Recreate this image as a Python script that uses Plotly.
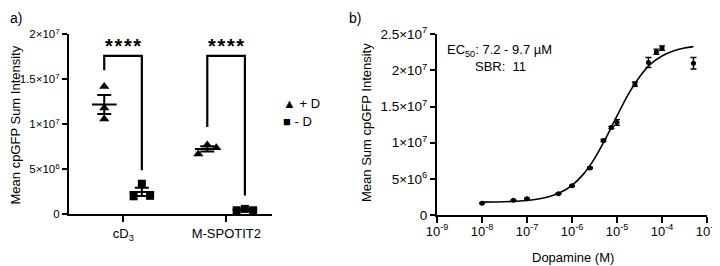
import plotly.graph_objects as go

# ---------------- data: panel a ----------------
groups = ["cD<sub>3</sub>", "M-SPOTIT2"]
plus_d = [[14.2e6, 11.8e6, 10.6e6], [7.7e6, 6.7e6, 7.4e6]]
minus_d = [[3.4e6, 2.0e6, 2.05e6], [0.45e6, 0.6e6, 0.45e6]]
stars = ["*\u200a*\u200a*\u200a*", "*\u200a*\u200a*\u200a*"]
bracket_top = [17.6e6, 17.6e6]
bracket_left_end = [16.0e6, 9.7e6]
bracket_right_end = [4.9e6, 2.1e6]
ya_ticks = [0, 5e6, 1e7, 1.5e7, 2e7]
ya_ticktext = ["0", "5×10<sup>6</sup>", "1×10<sup>7</sup>", "1.5×10<sup>7</sup>", "2×10<sup>7</sup>"]

# ---------------- data: panel b ----------------
conc = [1e-8, 5e-8, 1e-7, 5e-7, 1e-6, 2.5e-6, 5e-6, 7.5e-6, 1e-5, 2.5e-5, 5e-5, 7.5e-5, 1e-4, 5e-4]
resp = [1.62e6, 2.03e6, 2.26e6, 2.95e6, 4.05e6, 6.5e6, 10.3e6, 12.1e6, 12.8e6, 18.1e6, 21.1e6, 22.6e6, 23.1e6, 21.0e6]
resp_err = [0.05e6, 0.05e6, 0.05e6, 0.08e6, 0.08e6, 0.1e6, 0.15e6, 0.15e6, 0.4e6, 0.3e6, 0.7e6, 0.35e6, 0.3e6, 0.8e6]
fit_x = [1e-8, 10**-7.75, 10**-7.5, 10**-7.25, 1e-7, 10**-6.75, 10**-6.5, 10**-6.25, 1e-6,
         10**-5.75, 10**-5.5, 10**-5.25, 1e-5, 10**-4.75, 10**-4.5, 10**-4.25, 1e-4,
         10**-3.75, 10**-3.5, 5e-4]
fit_y = [1.78e6, 1.80e6, 1.83e6, 1.90e6, 2.01e6, 2.21e6, 2.55e6, 3.14e6, 4.11e6,
         5.62e6, 7.80e6, 10.6e6, 13.7e6, 16.7e6, 19.1e6, 20.9e6, 22.0e6,
         22.7e6, 23.1e6, 23.3e6]
xb_ticks = [1e-9, 1e-8, 1e-7, 1e-6, 1e-5, 1e-4, 1e-3]
xb_ticktext = ["10<sup>-9</sup>", "10<sup>-8</sup>", "10<sup>-7</sup>", "10<sup>-6</sup>",
               "10<sup>-5</sup>", "10<sup>-4</sup>", "10<sup>-3</sup>"]
yb_ticks = [0, 5e6, 1e7, 1.5e7, 2e7, 2.5e7]
yb_ticktext = ["0", "5×10<sup>6</sup>", "1×10<sup>7</sup>", "1.5×10<sup>7</sup>",
               "2×10<sup>7</sup>", "2.5×10<sup>7</sup>"]

# ---------------- layout constants ----------------
PAGE_OFF = 8          # default body margin of the page
W, H = 720 - PAGE_OFF, 266 - PAGE_OFF
FONT = "Liberation Sans, Arial, sans-serif"
off_plus, off_minus = -0.185, 0.18
jit_plus = [[0, 0, 0], [0, -0.087, 0.087]]
jit_minus = [[0, -0.08, 0.08], [-0.08, 0, 0.08]]
mean_half = 0.12
star_y = 18.7e6


def px(X):
    return max(0.0, (X - PAGE_OFF) / W)


def py(Y):
    return min(1.0, 1 - (Y - PAGE_OFF) / H)


fig = go.Figure()

for gi in range(len(groups)):
    for vals, off, jit, sym in [(plus_d[gi], off_plus, jit_plus[gi], "triangle-up"),
                                (minus_d[gi], off_minus, jit_minus[gi], "square")]:
        xc = gi + off
        n = len(vals)
        m = sum(vals) / n
        sd = (sum((v - m) ** 2 for v in vals) / (n - 1)) ** 0.5
        sem = sd / n ** 0.5
        fig.add_trace(go.Scatter(
            x=[xc + j for j in jit], y=vals, mode="markers",
            marker=dict(symbol=sym, size=9 if sym == "triangle-up" else 8, color="black"),
            xaxis="x", yaxis="y", showlegend=False, cliponaxis=False))
        fig.add_trace(go.Scatter(
            x=[xc - mean_half, xc + mean_half], y=[m, m], mode="lines",
            line=dict(color="black", width=2), xaxis="x", yaxis="y",
            showlegend=False, cliponaxis=False))
        fig.add_trace(go.Scatter(
            x=[xc], y=[m], mode="markers", marker=dict(size=1, color="rgba(0,0,0,0)"),
            error_y=dict(type="data", array=[sem], color="black", thickness=2, width=7),
            xaxis="x", yaxis="y", showlegend=False, cliponaxis=False))
    xl, xr = gi + off_plus, gi + off_minus
    fig.add_trace(go.Scatter(
        x=[xl, xl, xr, xr],
        y=[bracket_left_end[gi], bracket_top[gi], bracket_top[gi], bracket_right_end[gi]],
        mode="lines", line=dict(color="black", width=2.2),
        xaxis="x", yaxis="y", showlegend=False, cliponaxis=False))

fig.add_trace(go.Scatter(x=fit_x, y=fit_y, mode="lines", line=dict(color="black", width=1.6, shape="spline"),
                         xaxis="x2", yaxis="y2", showlegend=False))
fig.add_trace(go.Scatter(x=conc, y=resp, mode="markers",
                         marker=dict(symbol="circle", size=5, color="black"),
                         error_y=dict(type="data", array=resp_err, color="black", thickness=1.4, width=3),
                         xaxis="x2", yaxis="y2", showlegend=False, cliponaxis=False))

axis_common = dict(showline=True, linecolor="black", linewidth=2, ticks="outside",
                   tickcolor="black", tickwidth=2, showgrid=False, zeroline=False, automargin=False)


def tf(size):
    return dict(size=size, color="black", family=FONT)


fig.update_layout(
    width=W, height=H, margin=dict(l=0, r=0, t=0, b=0, autoexpand=False),
    plot_bgcolor="white", paper_bgcolor="white",
    font=dict(family=FONT, color="black", size=12),
    showlegend=False,
    xaxis=dict(domain=[px(69), px(272)], range=[-0.527, 1.443], tickvals=[0, 1], ticktext=groups,
               ticklen=6, anchor="y", tickfont=tf(13), **axis_common),
    yaxis=dict(domain=[py(214.3), py(34.3)], range=[0, 2e7], tickvals=ya_ticks, ticktext=ya_ticktext,
               ticklen=5, anchor="x", tickfont=tf(11.5), **axis_common),
    xaxis2=dict(domain=[px(437), px(707)], type="log", range=[-9, -3], tickvals=xb_ticks,
                ticktext=xb_ticktext, ticklen=6, ticklabelstandoff=-3, anchor="y2", tickfont=tf(13),
                **axis_common),
    yaxis2=dict(domain=[py(215), py(34.3)], range=[0, 2.5e7], tickvals=yb_ticks, ticktext=yb_ticktext,
                ticklen=5, anchor="x2", tickfont=tf(13.5), **axis_common),
)


def note(text, X, Y, xa="center", ya="middle", size=13, angle=0):
    return dict(text=text, x=px(X), y=py(Y), xref="paper", yref="paper", xanchor=xa,
                yanchor=ya, showarrow=False, textangle=angle, font=dict(size=size))


ann = [
    note("a)", 3, 8, xa="left", ya="top", size=14),
    note("b)", 347, 8, xa="left", ya="top", size=14),
    note("Mean cpGFP Sum Intensity", 15.5, 125, angle=-90),
    note("Mean Sum cpGFP Intensity", 366, 122, angle=-90),
    note("Dopamine (M)", 573, 257),
    note("▲ + D", 281, 103, xa="left"),
    note("■ - D", 281, 121, xa="left"),
    note("EC<sub>50</sub>: 7.2 - 9.7 µM", 445, 51, xa="left"),
    note("SBR:\u00a0 11", 473, 67, xa="left"),
]
for gi in range(len(groups)):
    ann.append(dict(text="<b>" + stars[gi] + "</b>", x=gi, y=star_y, xref="x", yref="y",
                    showarrow=False, font=dict(size=20), xanchor="center", yanchor="middle"))
fig.update_layout(annotations=ann)

fig.write_html("out.html")
